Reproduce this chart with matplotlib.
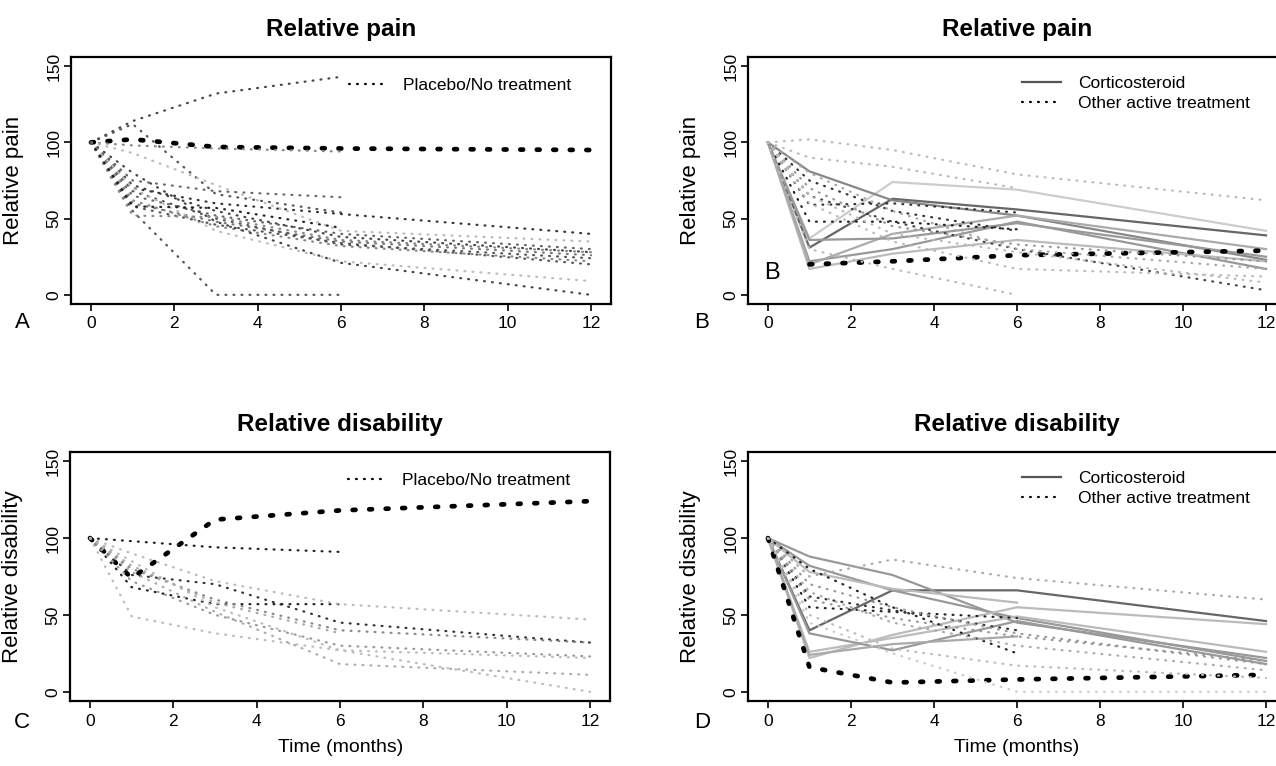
import numpy as np
import matplotlib
matplotlib.use("Agg")
import matplotlib.pyplot as plt

plt.rcParams['font.family'] = ['Liberation Sans', 'DejaVu Sans']

nan = np.nan
months = [0, 1, 3, 6, 12]

# A: relative pain, placebo / no treatment (missing tail = study ended at 6 months)
pain_placebo = [
    [100, 114, 132, 143],
    [100, 102, 97, 96, 95],
    [100, 98, 96, 94],
    [100, 112, 66, 54],
    [100, 55, 0, 0],
    [100, 70, 60, 53, 40],
    [100, 93, 72, 42, 35],
    [100, 65, 52, 40, 30],
    [100, 72, 55, 38, 28],
    [100, 60, 48, 35, 26],
    [100, 68, 50, 33, 24],
    [100, 62, 45, 32, 22],
    [100, 80, 48, 21, 0],
    [100, 70, 42, 22, 9],
    [100, 58, 46, 34, 20],
    [100, 52, 51, 36, 28],
    [100, 58, 57, 44],
    [100, 75, 68, 64],
]

# B: relative pain, corticosteroid vs other active treatment
pain_active = [
    [100, 31, 63, 56, 39],
    [100, 37, 74, 69, 42],
    [100, 81, 62, 52, 23],
    [100, 22, 30, 48, 17],
    [100, 17, 27, 36, 22],
    [100, 20, 40, 52, 30],
    [100, 36, 37, 47, 25],
    [100, 102, 95, 79, 62],
    [100, 90, 84, 70],
    [nan, 20, 22, 26, 29],
    [100, 48, 48, 43],
    [100, 59, 60, 54],
    [100, 75, 55, 42],
    [100, 65, 48, 30, 3],
    [100, 30, 17, 0],
    [100, 60, 35, 17, 12],
    [100, 70, 45, 33, 22],
    [100, 80, 55, 30, 17],
    [100, 65, 40, 28, 8],
]
pain_active_group = ['Corticosteroid'] * 7 + ['Other active treatment'] * 12

# C: relative disability, placebo / no treatment
disab_placebo = [
    [100, 74, 112, 118, 124],
    [100, 98, 94, 91],
    [100, 76, 70, 45, 32],
    [100, 68, 57, 57],
    [100, 90, 72, 57, 47],
    [100, 80, 60, 40, 32],
    [100, 49, 38, 27, 22],
    [100, 78, 52, 18, 11],
    [100, 85, 55, 27, 0],
    [100, 72, 50, 30, 23],
    [100, 82, 58, 38],
]

# D: relative disability, corticosteroid vs other active treatment
disab_active = [
    [100, 40, 66, 66, 46],
    [100, 88, 76, 45, 22],
    [100, 82, 66, 48, 20],
    [100, 22, 37, 55, 44],
    [100, 26, 35, 49, 26],
    [100, 38, 27, 46, 18],
    [100, 78, 67, 58],
    [100, 24, 31, 36],
    [100, 16, 6, 8, 11],
    [100, 75, 86, 74, 60],
    [100, 55, 52, 48],
    [100, 80, 55, 25],
    [100, 62, 53, 40],
    [100, 70, 55, 38, 18],
    [100, 60, 48, 36, 20],
    [100, 45, 25, 0, 0],
    [100, 50, 28, 17, 9],
    [100, 65, 45, 30, 14],
]
disab_active_group = ['Corticosteroid'] * 8 + ['Other active treatment'] * 10

# grey shade per line
pain_placebo_col = ['#444', 'black', '#888', '#555', '#555', '#333', '#bbb', '#666', '#444',
                    '#777', '#555', '#888', '#444', '#bbb', '#555', '#888', '#222', '#666']
pain_active_col = ['#666', '#ccc', '#888', '#999', '#bbb', '#aaa', '#999',
                   '#bbb', '#bbb', 'black', '#222', '#333', '#333', '#444', '#bbb', '#bbb',
                   '#999', '#aaa', '#bbb']
disab_placebo_col = ['black', '#222', '#333', '#222', '#bbb', '#888', '#bbb', '#aaa', '#bbb',
                     '#999', '#aaa']
disab_active_col = ['#666', '#999', '#999', '#bbb', '#bbb', '#999', '#bbb', '#aaa',
                    'black', '#aaa', '#222', '#222', '#333', '#999', '#999', '#ccc', '#bbb', '#aaa']

DOT = (0, (0.4, 3.2))
BIGDOT = (0, (0.6, 2.9))


def draw(ax, data, cols, groups=None):
    for i, y in enumerate(data):
        x = months[:len(y)]
        c = cols[i]
        solid = groups is not None and groups[i] == 'Corticosteroid'
        if c == 'black' and not solid:
            ax.plot(x, y, color=c, lw=3.4, linestyle=BIGDOT, dash_capstyle='round')
        elif solid:
            ax.plot(x, y, color=c, lw=1.6, linestyle='-')
        else:
            ax.plot(x, y, color=c, lw=1.6, linestyle=DOT, dash_capstyle='round')


def style(ax, title, ylabel):
    ax.set_xlim(-0.48, 12.48)
    ax.set_ylim(-6, 156)
    ax.set_xticks(range(0, 13, 2))
    ax.set_yticks([0, 50, 100, 150])
    ax.set_yticklabels(['0', '50', '100', '150'], rotation=90, va='center')
    ax.tick_params(length=5, width=1.2, labelsize=12.5, pad=2)
    ax.tick_params(axis='x', pad=4)
    for s in ax.spines.values():
        s.set_linewidth(1.6)
    ax.set_title(title, fontsize=17.5, fontweight='bold', pad=15)
    ax.set_ylabel(ylabel, fontsize=16)
    ax.yaxis.set_label_coords(-0.087, 0.5)


fig = plt.figure(figsize=(12.76, 7.66), dpi=100)
W, H = 1276.0, 766.0


def add_ax(left, right, top, bottom):
    return fig.add_axes([left / W, 1 - bottom / H, (right - left) / W, (bottom - top) / H])


axA = add_ax(71, 611, 57, 304)
axB = add_ax(748, 1286, 57, 304)
axC = add_ax(70, 610, 452, 701)
axD = add_ax(748, 1286, 452, 701)

draw(axA, pain_placebo, pain_placebo_col)
draw(axB, pain_active, pain_active_col, pain_active_group)
draw(axC, disab_placebo, disab_placebo_col)
draw(axD, disab_active, disab_active_col, disab_active_group)

style(axA, 'Relative pain', 'Relative pain')
style(axB, 'Relative pain', 'Relative pain')
style(axC, 'Relative disability', 'Relative disability')
style(axD, 'Relative disability', 'Relative disability')

for ax in [axA, axC]:
    h = [plt.Line2D([], [], color='black', lw=1.6, linestyle=DOT, dash_capstyle='round')]
    ax.legend(h, ['Placebo/No treatment'], loc='upper left', bbox_to_anchor=(0.515, 0.915),
              frameon=False, fontsize=12.5, handlelength=2.0, handletextpad=1.1,
              borderpad=0, borderaxespad=0)
for ax in [axB, axD]:
    h = [plt.Line2D([], [], color='#555', lw=1.6),
         plt.Line2D([], [], color='black', lw=1.6, linestyle=DOT, dash_capstyle='round')]
    ax.legend(h, ['Corticosteroid', 'Other active treatment'], loc='upper left',
              bbox_to_anchor=(0.51, 0.925), frameon=False, fontsize=12.5, handlelength=2.2,
              handletextpad=1.0, labelspacing=0.3, borderpad=0, borderaxespad=0)

for lab, x, y in [('A', 22, 322), ('B', 702, 322), ('C', 22, 722), ('D', 702, 722)]:
    fig.text(x / W, 1 - y / H, lab, fontsize=16, ha='center', va='center')
axB.text(0.03, 0.08, 'B', transform=axB.transAxes, fontsize=17, ha='left', va='bottom')

fig.text(341 / W, 1 - 748 / H, 'Time (months)', fontsize=14, ha='center', va='center')
fig.text(1017 / W, 1 - 748 / H, 'Time (months)', fontsize=14, ha='center', va='center')

fig.savefig('out.png', dpi=100)
